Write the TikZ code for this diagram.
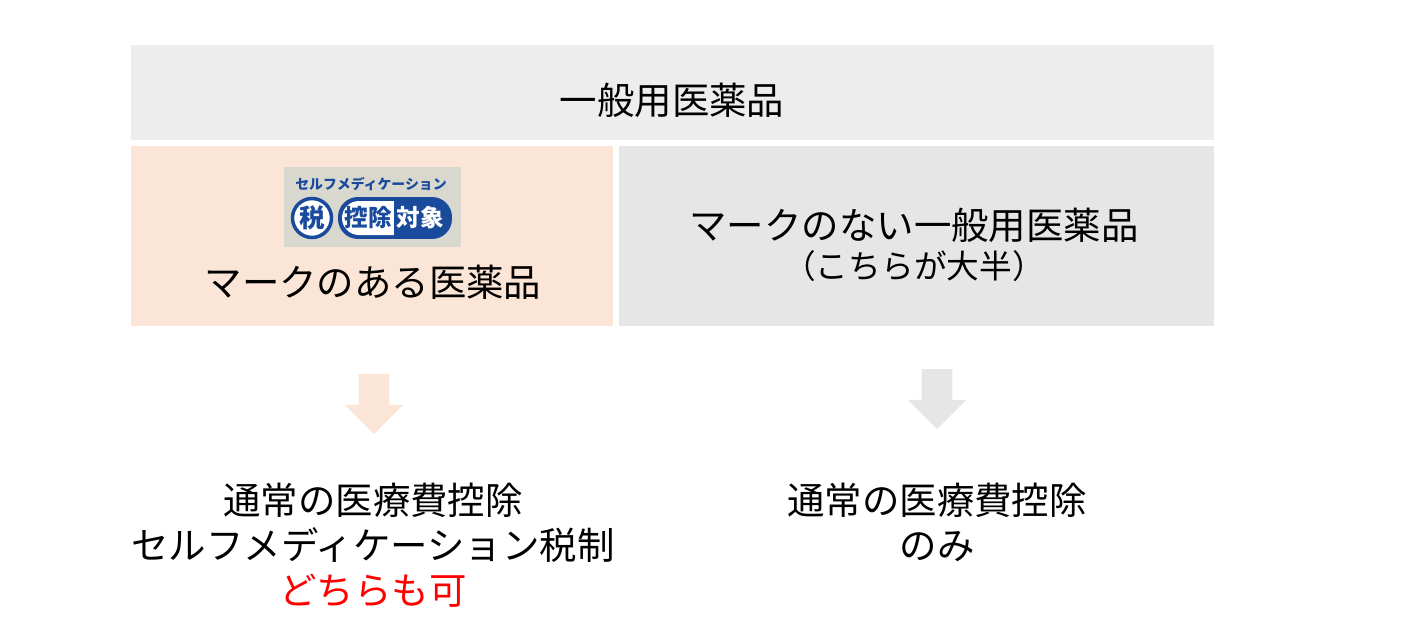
\documentclass[tikz,border=0pt]{standalone}
\usepackage{xcolor}
\usepackage{fontspec}
\setmainfont{Noto Sans CJK JP}
\usetikzlibrary{shapes.arrows}

\definecolor{topgray}{HTML}{EDEDED}
\definecolor{markpeach}{HTML}{FBE5D6}
\definecolor{nomarkgray}{HTML}{E7E6E6}
\definecolor{logogray}{HTML}{D9D8CF}
\definecolor{logoblue}{HTML}{1A4A9C}

\begin{document}
\begin{tikzpicture}[
  x=0.02cm, y=-0.02cm,
  box/.style={rectangle, inner sep=0, font=\fontsize{21.3}{25}\selectfont, align=center},
  blockarrow/.style={single arrow, shape border rotate=270, inner sep=0, text width=0.6cm, minimum height=1.2cm, single arrow head extend=0.28cm},
  result/.style={inner sep=0, font=\fontsize{21.3}{25.6}\selectfont, align=center},
  logotext/.style={inner sep=0, font=\bfseries\fontsize{#1}{#1}\selectfont},
]
\useasboundingbox (0,0) rectangle (1406,632);

\node[box, fill=topgray, minimum width=21.66cm, minimum height=1.9cm] (general) at (672.5,92.5) {};
\node[box] (generallabel) at (672,100) {一般用医薬品};
\node[box, fill=markpeach, minimum width=9.64cm, minimum height=3.6cm] (marked) at (372,236) {};
\node[box, fill=nomarkgray, minimum width=11.9cm, minimum height=3.6cm] (unmarked) at (916.5,236) {};

% logo
\node[fill=logogray, inner sep=0, minimum width=3.54cm, minimum height=1.6cm] (logo) at (372.5,207) {};
\node[logotext=7.9, text=logoblue] (logotitle) at (371,184) {セルフメディケーション};
\node[circle, draw=logoblue, line width=0.07cm, fill=white, minimum size=0.78cm, inner sep=0] (zei) at (312,218) {};
\node[logotext=14.5, text=logoblue] at (zei) {税};
\node[rectangle, rounded corners=0.4cm, fill=logoblue, minimum width=2.28cm, minimum height=0.84cm, inner sep=0] (pill) at (395,218) {};
\fill[white, rounded corners=0.34cm] (342,201) rectangle (412,235);
\fill[logoblue] (394,199) rectangle (414,237);
\node[logotext=13.4, text=logoblue] (koujo) at (368.5,218) {控除};
\node[logotext=13.4, text=white] (taishou) at (420,218) {対象};

\node[box] (markedlabel) at (373,282) {マークのある医薬品};
\node[box] (unmarkedlabel) at (914,225) {マークのない一般用医薬品};
\node[box, font=\fontsize{18.6}{20}\selectfont] (majority) at (914,266) {（こちらが大半）};

\node[blockarrow, fill=markpeach] (leftarrow) at (374,396.5) {};
\node[blockarrow, fill=nomarkgray] (rightarrow) at (937,391.5) {};

\node[result] (leftresult) at (373,545) {通常の医療費控除\\セルフメディケーション税制\\\textcolor{red}{どちらも可}};
\node[result] (rightresult) at (937,522) {通常の医療費控除\\のみ};

\end{tikzpicture}
\end{document}
